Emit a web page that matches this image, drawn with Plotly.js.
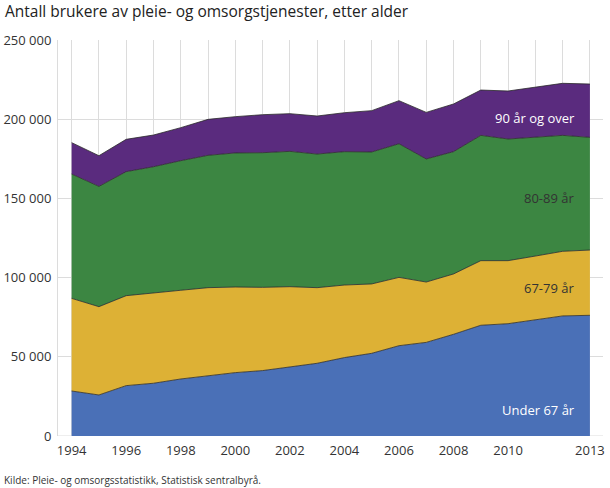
<!DOCTYPE html>
<html>
<head>
<meta charset="utf-8">
<script src="https://cdn.plot.ly/plotly-3.0.1.min.js"></script>
<style>html,body{margin:0;padding:0;background:#fff;}#chart{width:610px;height:488px;}</style>
</head>
<body>
<div id="chart"></div>
<script>
const years = [1994,1995,1996,1997,1998,1999,2000,2001,2002,2003,2004,2005,2006,2007,2008,2009,2010,2011,2012,2013];
const under67 = [28400,25900,31800,33300,36000,37900,40000,41300,43400,45900,49500,52200,57000,59100,64200,69900,70900,73400,75800,76200];
const age67_79 = [58500,55750,56800,56800,56000,55750,54060,52550,50870,47750,45800,43800,43150,38100,38100,40800,39800,40200,40800,41200];
const age80_89 = [78500,75950,78300,79900,81800,83550,84640,85000,85430,84350,84200,83300,84350,77700,77200,79100,76800,74950,73200,71150];
const age90plus = [19800,19350,20400,20000,20850,22700,22900,24000,23800,24000,24600,26100,27200,29400,30100,28600,30300,31750,32850,33650];
const seriesNames = ["Under 67 år","67-79 år","80-89 år","90 år og over"];
const xTickLabels = ["1994","","1996","","1998","","2000","","2002","","2004","","2006","","2008","","2010","","","2013"];
const yTickVals = [0,50000,100000,150000,200000,250000];
const yTickLabels = ["0","50 000","100 000","150 000","200 000","250 000"];

const colors = ["#4a70b7","#ddb135","#3c8642","#5a2b7e"];
const data = [under67, age67_79, age80_89, age90plus].map((vals, i) => ({
  type: "scatter",
  mode: "lines",
  x: years,
  y: vals,
  name: seriesNames[i],
  stackgroup: "one",
  fillcolor: colors[i],
  line: {color: "#2a2a2a", width: 0.8},
  hoverinfo: "x+y+name"
}));

const labelY = [16400, 93400, 150250, 200750];
const labelColors = ["#ffffff","#333333","#333333","#ffffff"];
const annotations = seriesNames.map((n, i) => ({
  x: 2012.52, y: labelY[i], xref: "x", yref: "y",
  text: n, showarrow: false, xanchor: "right", yanchor: "middle",
  font: {family: "Open Sans", size: 13, color: labelColors[i]}
}));
annotations.push({
  x: 0, y: 0, xref: "paper", yref: "paper", xanchor: "left", yanchor: "middle",
  xshift: -56, yshift: -44,
  text: "Kilde: Pleie- og omsorgsstatistikk, Statistisk sentralbyrå.",
  showarrow: false, font: {family: "Open Sans", size: 10, color: "#333"}
});

const layout = {
  width: 610, height: 488,
  margin: {l: 58, r: 7, t: 40, b: 52},
  paper_bgcolor: "#fff", plot_bgcolor: "#fff",
  showlegend: false,
  font: {family: "Open Sans", color: "#333"},
  title: {text: "Antall brukere av pleie- og omsorgstjenester, etter alder",
          x: 0, xref: "paper", xanchor: "left", y: 0.977, yanchor: "middle",
          pad: {l: -53},
          font: {family: "Open Sans", size: 15.5, color: "#222"}},
  xaxis: {
    range: [1993.5, 2013.48],
    tickvals: years, ticktext: xTickLabels,
    showgrid: true, gridcolor: "#dcdcdc", gridwidth: 1,
    zeroline: false, showline: false, ticks: "", ticklabelstandoff: 5,
    tickfont: {family: "Open Sans", size: 13, color: "#333"}
  },
  yaxis: {
    range: [0, 250000],
    tickvals: yTickVals, ticktext: yTickLabels,
    showgrid: true, gridcolor: "#dcdcdc", gridwidth: 1,
    zeroline: false, showline: true, linecolor: "#dcdcdc", linewidth: 1,
    ticks: "", ticklabelstandoff: 3,
    tickfont: {family: "Open Sans", size: 13, color: "#333"}
  },
  shapes: [{type: "line", xref: "paper", yref: "y", x0: 0, x1: 1, y0: 0, y1: 0, line: {color: "#dcdcdc", width: 1}, layer: "below"}],
  annotations: annotations
};

Plotly.newPlot("chart", data, layout, {displayModeBar: false, staticPlot: true});
</script>
</body>
</html>
